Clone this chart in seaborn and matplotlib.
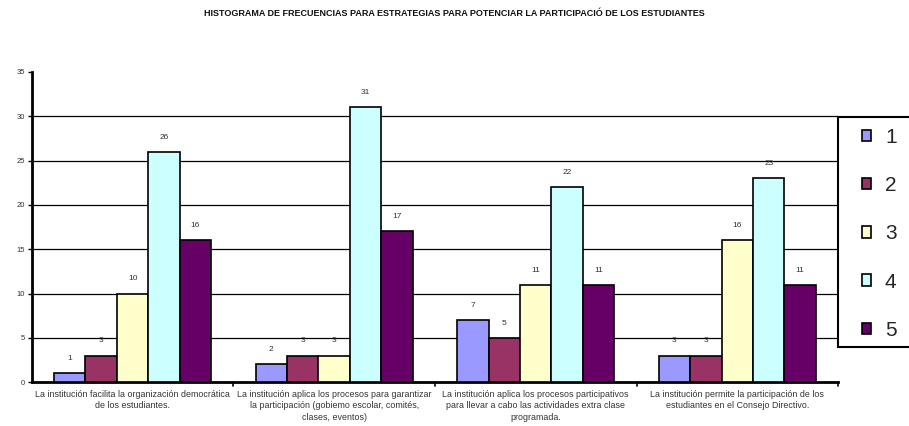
import matplotlib
matplotlib.use("Agg")
import matplotlib.pyplot as plt
import seaborn as sns
import pandas as pd
from matplotlib.patches import Patch, Rectangle

categories = [
    "La institución facilita la organización democrática\nde los estudiantes.",
    "La institución aplica los procesos para garantizar\nla participación (gobiemo escolar, comités,\nclases, eventos)",
    "La institución aplica los procesos participativos\npara llevar a cabo las actividades extra clase\nprogramada.",
    "La institución permite la participación de los\nestudiantes en el Consejo Directivo.",
]
series_names = ["1", "2", "3", "4", "5"]
values = {
    "1": [1, 2, 7, 3],
    "2": [3, 3, 5, 3],
    "3": [10, 3, 11, 16],
    "4": [26, 31, 22, 23],
    "5": [16, 17, 11, 11],
}
colors = ["#9999FF", "#993366", "#FFFFCC", "#CCFFFF", "#660066"]
title = "HISTOGRAMA DE FRECUENCIAS PARA ESTRATEGIAS PARA POTENCIAR LA PARTICIPACIÓ DE LOS ESTUDIANTES"

rows = []
for s in series_names:
    for c, v in zip(categories, values[s]):
        rows.append({"cat": c, "serie": s, "val": v})
df = pd.DataFrame(rows)

sns.set_theme(style="white")
plt.rcParams["font.family"] = ["Liberation Sans", "DejaVu Sans"]

W, H = 909, 426
fig = plt.figure(figsize=(W / 100, H / 100), dpi=100)
ax = fig.add_axes([0.035, 0.103, 0.887, 0.728])

sns.barplot(data=df, x="cat", y="val", hue="serie", palette=colors,
            order=categories, hue_order=series_names,
            width=0.78, edgecolor="black", linewidth=1.2, ax=ax, legend=False,
            saturation=1, zorder=3)

for cont in ax.containers:
    ax.bar_label(cont, fontsize=6, color="#333333", padding=8)

ax.set_ylim(0, 35)
ax.set_yticks(range(0, 36, 5))
ax.set_yticklabels([str(v) for v in range(0, 36, 5)], fontsize=5.5, color="#333333")
for y in range(5, 31, 5):
    ax.axhline(y, color="black", linewidth=0.9, zorder=1)
ax.set_xlim(-0.5, 3.5)
ax.set_xticks([])
ax.set_xticklabels([])
ax.set_xlabel("")
ax.set_ylabel("")
for i, c in enumerate(categories):
    ax.text(i, -0.85, c, ha="center", va="top", fontsize=6.4, color="#333333",
            linespacing=1.4)
# boundary ticks
for b in [0.5, 1.5, 2.5, 3.5]:
    ax.plot([b, b], [0, -0.4], color="black", linewidth=1.2, clip_on=False)
ax.tick_params(axis="y", length=3, width=1, color="black", left=True, pad=2)

for sp in ["top", "right"]:
    ax.spines[sp].set_visible(False)
for sp in ["left", "bottom"]:
    ax.spines[sp].set_color("black")
    ax.spines[sp].set_linewidth(2)

fig.text(0.5, 0.968, title, ha="center", va="center", fontsize=6.5,
         fontweight="bold", color="#111111")

# legend frame (extends past the right edge, as in the reference)
fig.patches.append(Rectangle((838 / W, (H - 347) / H), 0.2, (347 - 117) / H,
                             transform=fig.transFigure, facecolor="white",
                             edgecolor="black", linewidth=1.5, zorder=5))
handles = [Patch(facecolor=c, edgecolor="black", linewidth=1.2) for c in colors]
leg = fig.legend(handles, series_names, loc="upper left",
                 bbox_to_anchor=(862 / W, (H - 128) / H), fontsize=15,
                 frameon=False,
                 handlelength=0.45, handleheight=0.45, handletextpad=0.65,
                 labelspacing=1.4, borderpad=0, borderaxespad=0)
leg.set_zorder(6)

fig.savefig("out.png", dpi=100, facecolor="white")
